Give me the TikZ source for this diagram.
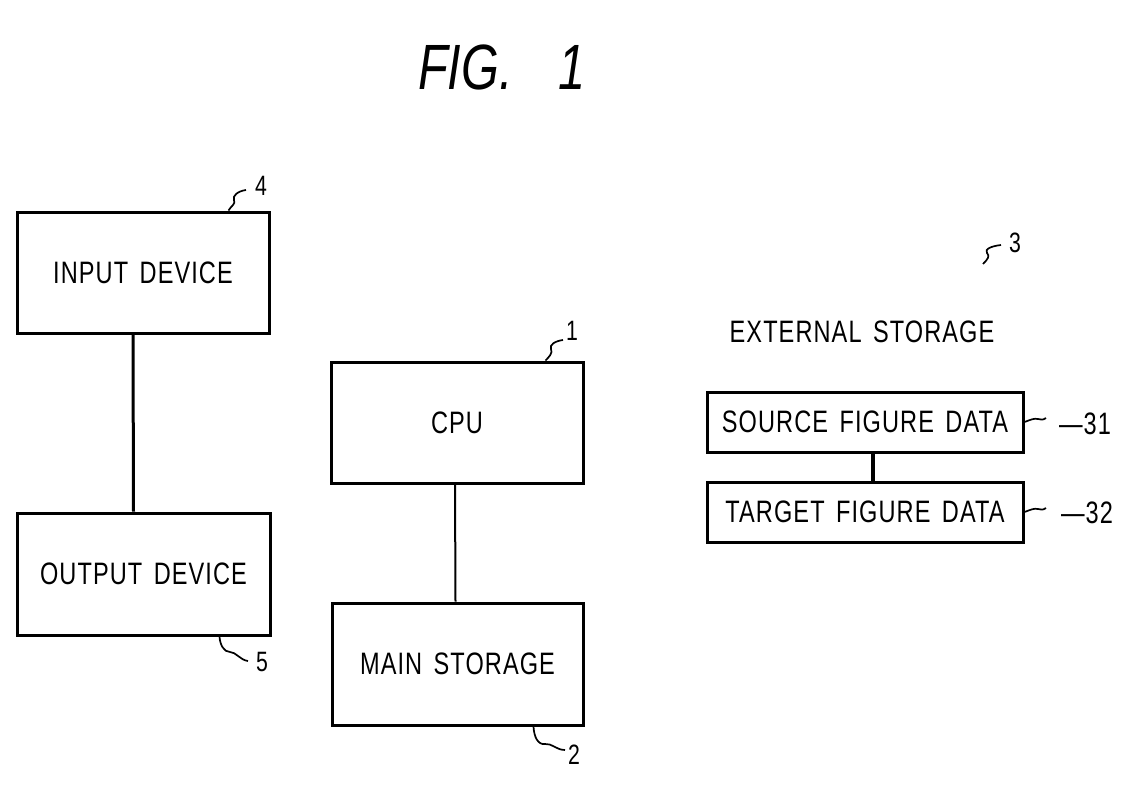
\documentclass[tikz,border=0pt]{standalone}
\usepackage{fontspec}
\setmainfont[FakeStretch=0.76, LetterSpace=3.5, WordSpace=1.5]{Liberation Sans}
\newfontfamily\titlef[FakeStretch=0.76]{Liberation Sans}
\begin{document}
\begin{tikzpicture}[x=0.5pt,y=-0.5pt,
  box/.style={draw, line width=1.5pt, inner sep=0pt, font=\fontsize{15.5}{17}\selectfont},
  plain/.style={inner sep=0pt, font=\fontsize{15.5}{17}\selectfont},
  link/.style={line width=1.5pt},
  lead/.style={line width=0.85pt},
  num/.style={inner sep=0pt, font=\fontsize{14}{16}\selectfont}]
\useasboundingbox[fill=white] (0,0) rectangle (1141,793);

\node[inner sep=0pt, font=\titlef\itshape\fontsize{32}{36}\selectfont] (title) at (502,67) {FIG.\hspace{23pt}1};

\node[box, minimum width=126pt, minimum height=60.5pt] (in) at (143,272.5) {INPUT DEVICE};
\node[box, minimum width=126.5pt, minimum height=61pt] (out) at (143.5,574) {OUTPUT DEVICE};
\node[box, minimum width=126pt, minimum height=60.5pt] (cpu) at (457,422.5) {CPU};
\node[box, minimum width=125.5pt, minimum height=61pt] (main) at (457.5,664) {MAIN STORAGE};
\node[plain] (ext) at (862,332) {EXTERNAL STORAGE};
\node[box, minimum width=158pt, minimum height=30pt] (src) at (865,422) {SOURCE FIGURE DATA};
\node[box, minimum width=158pt, minimum height=30pt] (tgt) at (865,512) {TARGET FIGURE DATA};

\draw[link] ([xshift=-5pt]in.south) -- ([xshift=-5pt]out.north);
\draw[link, line width=1pt] ([xshift=-1pt]cpu.south) -- ([xshift=-1pt]main.north);
\draw[link, line width=1.8pt] ([xshift=4pt]src.south) -- ([xshift=4pt]tgt.north);

% reference numerals
\node[num] (l4) at (261,186) {4};
\node[num] (l5) at (262,662) {5};
\node[num] (l1) at (572,331) {1};
\node[num] (l2) at (574,755) {2};
\node[num] (l3) at (1015,243) {3};
\node[plain] (l31) at (1085,424) {—31};
\node[plain] (l32) at (1087,513) {—32};

\coordinate (e4) at (246,190);
\coordinate (e5) at (248,661);
\coordinate (e1) at (563,340);
\coordinate (e2) at (565,750);
\coordinate (s3) at (983,264);
\coordinate (e3) at (1001,245);
\coordinate (e31) at (1046,418);
\coordinate (e32) at (1046,508);

\draw[lead] ([xshift=-21pt]in.north east) .. controls (231,206) and (236,204) .. (234,200) .. controls (232,196) and (238,191) .. (e4);
\draw[lead] ([xshift=-26pt]out.south east) .. controls (220,645) and (224,652) .. (230,652) .. controls (236,652) and (240,660) .. (e5);
\draw[lead] ([xshift=-19.5pt]cpu.north east) .. controls (549,357) and (553,353) .. (551,349) .. controls (549,345) and (555,341) .. (e1);
\draw[lead] ([xshift=-25.5pt]main.south east) .. controls (534,737) and (538,745) .. (545,744) .. controls (552,743) and (556,750) .. (e2);
\draw[lead] (s3) .. controls (988,259) and (990,256) .. (987,253) .. controls (984,249) and (992,246) .. (e3);
\draw[lead] (src.east) .. controls (1030,420) and (1034,418) .. (1038,419) .. controls (1041,420) and (1043,420) .. (e31);
\draw[lead] (tgt.east) .. controls (1030,510) and (1034,508) .. (1038,509) .. controls (1041,510) and (1043,510) .. (e32);
\end{tikzpicture}
\end{document}
